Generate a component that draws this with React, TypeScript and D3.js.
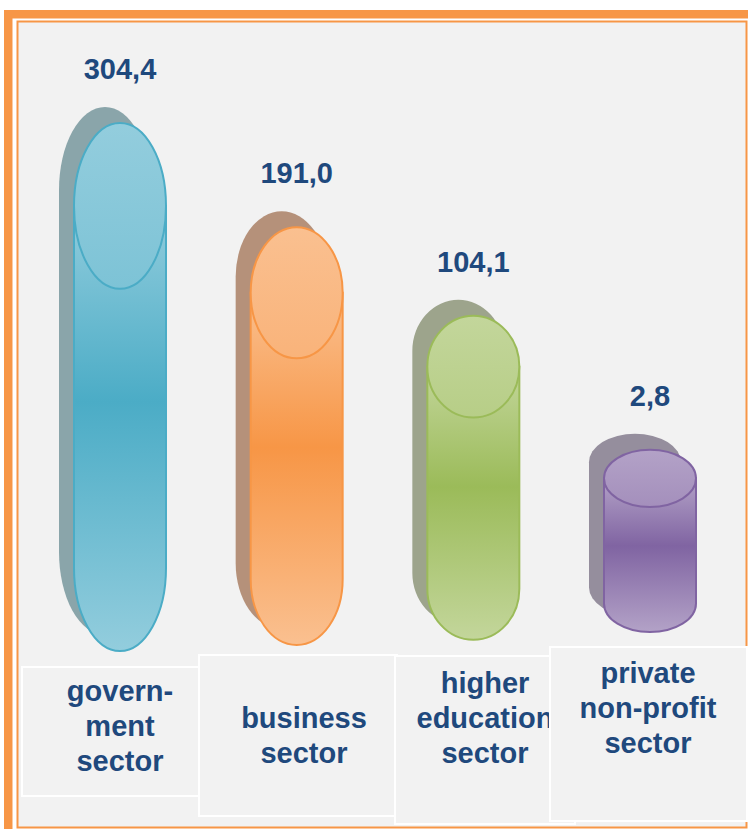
import React, { useEffect, useRef } from 'react';
import * as d3 from 'd3';

// R&D personnel by sector (values as shown on the chart)
const categories = ['government', 'business', 'higher education', 'private non-profit'];
const values = [304.4, 191.0, 104.1, 2.8];
const labelLines = [
  ['govern-', 'ment', 'sector'],
  ['business', 'sector'],
  ['higher', 'education', 'sector'],
  ['private', 'non-profit', 'sector'],
];

// colours: [light, dark, shadow]
const palette = [
  ['#93cddd', '#4bacc6', '#8aa5aa'],
  ['#fac090', '#f79646', '#b5917a'],
  ['#c3d69b', '#9bbb59', '#9da48c'],
  ['#b3a2c7', '#8064a2', '#958e9d'],
];

// label boxes: x0, y0, x1, y1, text centre, first baseline
const boxes = [
  [22, 667, 199, 796, 120, 701],
  [199, 655, 397, 816, 304, 728],
  [395, 656, 575, 824, 485, 693],
  [550, 647, 747, 821, 648, 683],
];

const W = 748;
const H = 829;
const textColor = '#1f497d';
const font = '"Liberation Sans", Arial, sans-serif';

export default function App() {
  const svgRef = useRef<SVGSVGElement>(null);

  useEffect(() => {
    if (!svgRef.current) return;
    const svg = d3.select(svgRef.current);
    svg.selectAll('*').remove();

    const fmt = d3.formatLocale({ decimal: ',', thousands: ' ', grouping: [3], currency: ['', ''] }).format('.1f');

    const x = d3.scalePoint<string>().domain(categories).range([120, 650]);
    const hScale = d3.scalePow().exponent(0.8).domain([0, d3.max(values) as number]).range([174, 528]);
    const rx = 46;

    // frame
    svg.append('rect').attr('x', 4).attr('y', 10).attr('width', W).attr('height', H).attr('fill', '#f79646');
    svg.append('rect').attr('x', 12.5).attr('y', 18.5).attr('width', W).attr('height', H).attr('fill', '#ffffff');
    svg.append('rect')
      .attr('x', 17.5).attr('y', 21.5)
      .attr('width', 746.5 - 17.5).attr('height', 827.5 - 21.5)
      .attr('fill', '#f2f2f2')
      .attr('stroke', '#f79646')
      .attr('stroke-width', 2);

    const defs = svg.append('defs');
    palette.forEach((p, i) => {
      const body = defs.append('linearGradient').attr('id', `body${i}`).attr('x1', 0).attr('y1', 0).attr('x2', 0).attr('y2', 1);
      body.append('stop').attr('offset', 0).attr('stop-color', p[0]);
      body.append('stop').attr('offset', 0.44).attr('stop-color', p[1]);
      body.append('stop').attr('offset', 1).attr('stop-color', p[0]);
      const top = defs.append('linearGradient').attr('id', `top${i}`).attr('x1', 0).attr('y1', 0).attr('x2', 0).attr('y2', 1);
      top.append('stop').attr('offset', 0).attr('stop-color', p[0]);
      top.append('stop').attr('offset', 1).attr('stop-color', d3.interpolateRgb(p[0], p[1])(0.3));
    });

    const capsule = (cx: number, topCy: number, botCy: number, ry: number) =>
      `M${cx - rx},${topCy} A${rx},${ry} 0 0 1 ${cx + rx},${topCy} L${cx + rx},${botCy} A${rx},${ry} 0 0 1 ${cx - rx},${botCy} Z`;
    const bodyPath = (cx: number, topCy: number, botCy: number, ry: number) =>
      `M${cx - rx},${topCy} L${cx - rx},${botCy} A${rx},${ry} 0 0 0 ${cx + rx},${botCy} L${cx + rx},${topCy} Z`;

    // cylinders
    values.forEach((v, i) => {
      const cx = x(categories[i]) as number;
      const total = hScale(v);
      const ry = total * 0.157;
      const bottom = 622 + 0.35 * ry;
      const topY = bottom - total;
      const topCy = topY + ry;
      const botCy = bottom - ry;
      const g = svg.append('g');

      g.append('path')
        .attr('d', capsule(cx - 15, topCy - 16, botCy - 16, ry))
        .attr('fill', palette[i][2]);

      g.append('path')
        .attr('d', bodyPath(cx, topCy, botCy, ry))
        .attr('fill', `url(#body${i})`)
        .attr('stroke', palette[i][1])
        .attr('stroke-width', 2);

      g.append('ellipse')
        .attr('cx', cx).attr('cy', topCy)
        .attr('rx', rx).attr('ry', ry)
        .attr('fill', `url(#top${i})`)
        .attr('stroke', palette[i][1])
        .attr('stroke-width', 2);

      g.append('text')
        .attr('x', cx)
        .attr('y', topY - 44)
        .attr('text-anchor', 'middle')
        .attr('font-family', font)
        .attr('font-weight', 'bold')
        .attr('font-size', 29)
        .attr('fill', textColor)
        .text(fmt(v));
    });

    // category label boxes
    boxes.forEach((b, i) => {
      const g = svg.append('g');
      g.append('rect')
        .attr('x', b[0]).attr('y', b[1])
        .attr('width', b[2] - b[0]).attr('height', b[3] - b[1])
        .attr('fill', '#f2f2f2')
        .attr('stroke', '#ffffff')
        .attr('stroke-width', 2);
      g.append('text')
        .attr('text-anchor', 'middle')
        .attr('font-family', font)
        .attr('font-weight', 'bold')
        .attr('font-size', 29)
        .attr('fill', textColor)
        .selectAll('tspan')
        .data(labelLines[i])
        .enter()
        .append('tspan')
        .attr('x', b[4])
        .attr('y', (_, j) => b[5] + j * 35)
        .text(d => d);
    });
  }, []);

  return (
    <svg
      ref={svgRef}
      width={W}
      height={H}
      style={{ position: 'absolute', left: 0, top: 0, display: 'block', background: '#ffffff' }}
    />
  );
}
